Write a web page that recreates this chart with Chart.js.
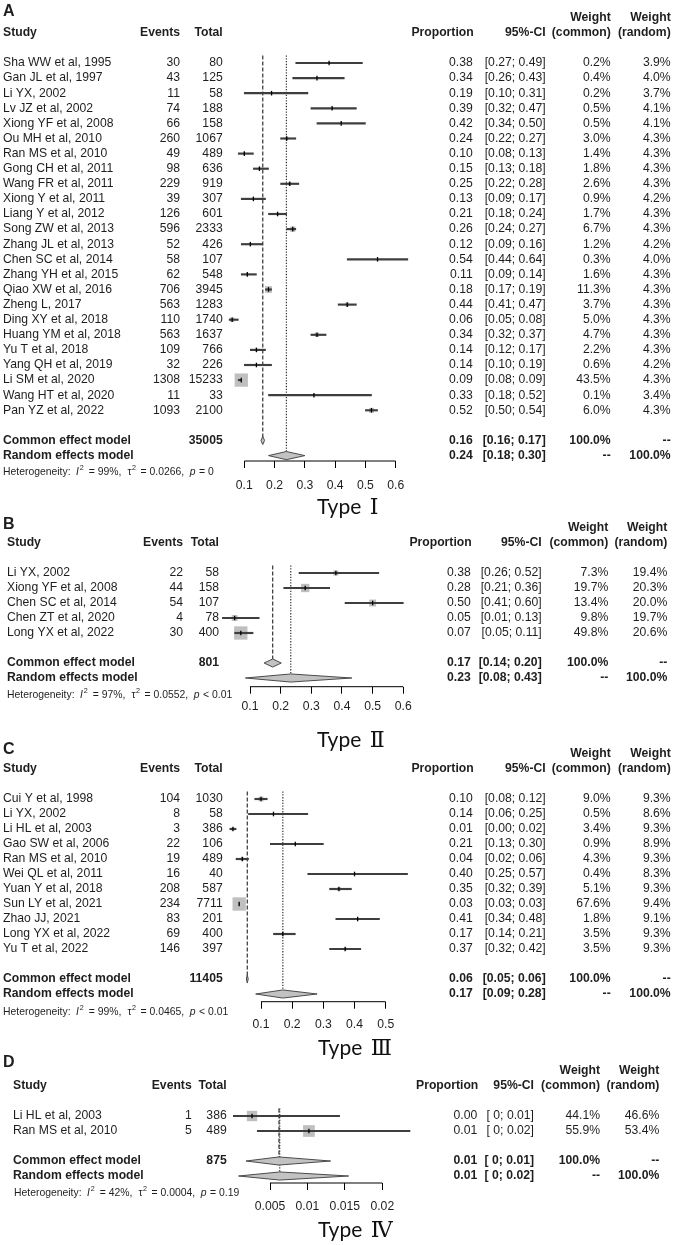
<!DOCTYPE html>
<html><head><meta charset="utf-8">
<script src="https://cdn.jsdelivr.net/npm/chart.js@4.4.1/dist/chart.umd.min.js"></script>
<style>
html,body{margin:0;padding:0;background:#fff;overflow:hidden;}
#wrap{position:relative;width:675px;height:1245px;}
#wrap canvas{position:absolute;left:0;top:0;}
</style></head><body>
<div id="wrap">
<canvas id="cA" width="675" height="1245"></canvas>
<canvas id="cB" width="675" height="1245"></canvas>
<canvas id="cC" width="675" height="1245"></canvas>
<canvas id="cD" width="675" height="1245"></canvas>
</div>
<script>
// ================= DATA =================
// ---- Panel A : Type I ----
const studiesA = ['Sha WW et al, 1995','Gan JL et al, 1997','Li YX, 2002','Lv JZ et al, 2002','Xiong YF et al, 2008','Ou MH et al, 2010','Ran MS et al, 2010','Gong CH et al, 2011','Wang FR et al, 2011','Xiong Y et al, 2011','Liang Y et al, 2012','Song ZW et al, 2013','Zhang JL et al, 2013','Chen SC et al, 2014','Zhang YH et al, 2015','Qiao XW et al, 2016','Zheng L, 2017','Ding XY et al, 2018','Huang YM et al, 2018','Yu T et al, 2018','Yang QH et al, 2019','Li SM et al, 2020','Wang HT et al, 2020','Pan YZ et al, 2022'];
const eventsA = [30,43,11,74,66,260,49,98,229,39,126,596,52,58,62,706,563,110,563,109,32,1308,11,1093];
const totalsA = [80,125,58,188,158,1067,489,636,919,307,601,2333,426,107,548,3945,1283,1740,1637,766,226,15233,33,2100];
const propA = [0.38,0.34,0.19,0.39,0.42,0.24,0.10,0.15,0.25,0.13,0.21,0.26,0.12,0.54,0.11,0.18,0.44,0.06,0.34,0.14,0.14,0.09,0.33,0.52];
const loA = [0.27,0.26,0.10,0.32,0.34,0.22,0.08,0.13,0.22,0.09,0.18,0.24,0.09,0.44,0.09,0.17,0.41,0.05,0.32,0.12,0.10,0.08,0.18,0.50];
const hiA = [0.49,0.43,0.31,0.47,0.50,0.27,0.13,0.18,0.28,0.17,0.24,0.27,0.16,0.64,0.14,0.19,0.47,0.08,0.37,0.17,0.19,0.09,0.52,0.54];
const wCommonA = [0.2,0.4,0.2,0.5,0.5,3.0,1.4,1.8,2.6,0.9,1.7,6.7,1.2,0.3,1.6,11.3,3.7,5.0,4.7,2.2,0.6,43.5,0.1,6.0];
const wRandomA = [3.9,4.0,3.7,4.1,4.1,4.3,4.3,4.3,4.3,4.2,4.3,4.3,4.2,4.0,4.3,4.3,4.3,4.3,4.3,4.3,4.2,4.3,3.4,4.3];
const commonA = [0.161,0.155,0.167];      // plotted: estimate, lower, upper
const randomA = [0.239,0.18,0.30];
const commonTextA = ['0.16','[0.16; 0.17]'];
const randomTextA = ['0.24','[0.18; 0.30]'];
const totalA = '35005';
const hetA = ['99%','0.0266','= 0'];
const ticksA = [0.1,0.2,0.3,0.4,0.5,0.6];
const tickLabelsA = ['0.1','0.2','0.3','0.4','0.5','0.6'];

// ---- Panel B : Type II ----
const studiesB = ['Li YX, 2002','Xiong YF et al, 2008','Chen SC et al, 2014','Chen ZT et al, 2020','Long YX et al, 2022'];
const eventsB = [22,44,54,4,30];
const totalsB = [58,158,107,78,400];
const propB = [0.38,0.28,0.50,0.05,0.07];
const loB = [0.26,0.21,0.41,0.01,0.05];
const hiB = [0.52,0.36,0.60,0.13,0.11];
const wCommonB = [7.3,19.7,13.4,9.8,49.8];
const wRandomB = [19.4,20.3,20.0,19.7,20.6];
const commonB = [0.174,0.146,0.202];
const randomB = [0.233,0.085,0.432];
const commonTextB = ['0.17','[0.14; 0.20]'];
const randomTextB = ['0.23','[0.08; 0.43]'];
const totalB = '801';
const hetB = ['97%','0.0552','< 0.01'];
const ticksB = [0.1,0.2,0.3,0.4,0.5,0.6];
const tickLabelsB = ['0.1','0.2','0.3','0.4','0.5','0.6'];

// ---- Panel C : Type III ----
const studiesC = ['Cui Y et al, 1998','Li YX, 2002','Li HL et al, 2003','Gao SW et al, 2006','Ran MS et al, 2010','Wei QL et al, 2011','Yuan Y et al, 2018','Sun LY et al, 2021','Zhao JJ, 2021','Long YX et al, 2022','Yu T et al, 2022'];
const eventsC = [104,8,3,22,19,16,208,234,83,69,146];
const totalsC = [1030,58,386,106,489,40,587,7711,201,400,397];
const propC = [0.10,0.14,0.01,0.21,0.04,0.40,0.35,0.03,0.41,0.17,0.37];
const loC = [0.08,0.06,0.00,0.13,0.02,0.25,0.32,0.03,0.34,0.14,0.32];
const hiC = [0.12,0.25,0.02,0.30,0.06,0.57,0.39,0.03,0.48,0.21,0.42];
const wCommonC = [9.0,0.5,3.4,0.9,4.3,0.4,5.1,67.6,1.8,3.5,3.5];
const wRandomC = [9.3,8.6,9.3,8.9,9.3,8.3,9.3,9.4,9.1,9.3,9.3];
const commonC = [0.056,0.053,0.059];
const randomC = [0.17,0.083,0.28];
const commonTextC = ['0.06','[0.05; 0.06]'];
const randomTextC = ['0.17','[0.09; 0.28]'];
const totalC = '11405';
const hetC = ['99%','0.0465','< 0.01'];
const ticksC = [0.1,0.2,0.3,0.4,0.5];
const tickLabelsC = ['0.1','0.2','0.3','0.4','0.5'];

// ---- Panel D : Type IV ----
const studiesD = ['Li HL et al, 2003','Ran MS et al, 2010'];
const eventsD = [1,5];
const totalsD = [386,489];
const propD = [0.0026,0.0102];
const loD = [0.0001,0.0033];
const hiD = [0.0143,0.0237];
const propTextD = ['0.00','0.01'];
const ciTextD = ['[ 0; 0.01]','[ 0; 0.02]'];
const wCommonD = [44.1,55.9];
const wRandomD = [46.6,53.4];
const commonD = [0.0062,0.0018,0.0131];
const randomD = [0.0063,0.0008,0.0155];
const commonTextD = ['0.01','[ 0; 0.01]'];
const randomTextD = ['0.01','[ 0; 0.02]'];
const totalD = '875';
const hetD = ['42%','0.0004','= 0.19'];
const ticksD = [0.005,0.01,0.015,0.02];
const tickLabelsD = ['0.005','0.01','0.015','0.02'];

// ================= DRAWING =================
const FONT = "'Liberation Sans', Arial, Helvetica, sans-serif";
const FS = 12.2;
const AXIS_BOX = 40;
Chart.defaults.font.family = FONT;
const TXT = '#1e1e1e';

function f2(v){ return v.toFixed(2); }
function pct(v){ return v.toFixed(1) + '%'; }

function tablePlugin(D, L) {
  return {
    id: 'forestTable' + D.label,
    afterDraw(chart) {
      const ctx = chart.ctx, ys = chart.scales.y;
      const n = D.studies.length;
      const Y = r => ys.getPixelForValue(r);
      const reg = FS + 'px ' + FONT, bold = 'bold ' + FS + 'px ' + FONT;
      ctx.save();
      ctx.fillStyle = TXT;
      ctx.textBaseline = 'middle';
      const T = (s, x, y, a, f) => { ctx.font = f; ctx.textAlign = a; ctx.fillText(String(s), x, y); };
      T(D.label, 3, L.labelY, 'left', 'bold 16px ' + FONT);
      const h1 = Y(-3), h2 = Y(-2);
      T('Weight', L.wcR, h1, 'right', bold);
      T('Weight', L.wrR, h1, 'right', bold);
      T('Study', L.studyX, h2, 'left', bold);
      T('Events', L.eventsR, h2, 'right', bold);
      T('Total', L.totalR, h2, 'right', bold);
      T('Proportion', L.propR + 1, h2, 'right', bold);
      T('95%-CI', L.ciR, h2, 'right', bold);
      T('(common)', L.wcR, h2, 'right', bold);
      T('(random)', L.wrR, h2, 'right', bold);
      for (let i = 0; i < n; i++) {
        const y = Y(i);
        T(D.studies[i], L.studyX, y, 'left', reg);
        T(D.events[i], L.eventsR, y, 'right', reg);
        T(D.totals[i], L.totalR, y, 'right', reg);
        T(D.propText ? D.propText[i] : f2(D.est[i]), L.propR, y, 'right', reg);
        T(D.ciText ? D.ciText[i] : '[' + f2(D.lo[i]) + '; ' + f2(D.hi[i]) + ']', L.ciR, y, 'right', reg);
        T(pct(D.wc[i]), L.wcR, y, 'right', reg);
        T(pct(D.wr[i]), L.wrR, y, 'right', reg);
      }
      const yc = Y(n + 1), yr = Y(n + 2);
      T('Common effect model', L.studyX, yc, 'left', bold);
      T(D.total, L.totalR, yc, 'right', bold);
      T(D.commonText[0], L.propR, yc, 'right', bold);
      T(D.commonText[1], L.ciR, yc, 'right', bold);
      T('100.0%', L.wcR, yc, 'right', bold);
      T('--', L.wrR, yc, 'right', bold);
      T('Random effects model', L.studyX, yr, 'left', bold);
      T(D.randomText[0], L.propR, yr, 'right', bold);
      T(D.randomText[1], L.ciR, yr, 'right', bold);
      T('--', L.wcR, yr, 'right', bold);
      T('100.0%', L.wrR, yr, 'right', bold);
      // heterogeneity line (text, style, gap after)
      const hy = yr + L.hetDy;
      const HF = 10.4;
      const segs = [
        ['Heterogeneity:', '', 5.5], ['I', 'italic ', 0.8], ['2', 'sup', 5], ['= ' + D.het[0] + ',', '', 6],
        ['\u03C4', '', 0.6], ['2', 'sup', 4.5], ['= ' + D.het[1] + ',', '', 5.5], ['p', 'italic ', 3.5], [D.het[2], '', 0]
      ];
      let hx = L.hetX;
      ctx.textAlign = 'left';
      for (const [s, st, gap] of segs) {
        if (st === 'sup') {
          ctx.font = '7.2px ' + FONT;
          ctx.fillText(s, hx, hy - 4.2);
        } else {
          ctx.font = st + HF + 'px ' + FONT;
          ctx.fillText(s, hx, hy);
        }
        hx += ctx.measureText(s).width + gap;
      }
      // title
      ctx.textBaseline = 'alphabetic';
      ctx.fillStyle = '#111';
      ctx.textAlign = 'left';
      ctx.font = '21px Lato, "Open Sans", sans-serif';
      ctx.fillText('Type', L.titleX, L.titleBase);
      const tw = ctx.measureText('Type ').width;
      ctx.font = '22px "DejaVu Serif", "Noto Sans CJK SC", serif';
      ctx.fillText(D.numeral, L.titleX + tw + 3, L.titleBase);
      ctx.restore();
    }
  };
}

function buildPanel(id, D, L) {
  const n = D.studies.length;
  const axisRow = (L.axisY - L.row0) / L.step;
  const tmin = D.ticks[0], tmax = D.ticks[D.ticks.length - 1];
  const ppu = (L.x1 - L.x0) / (tmax - tmin);
  const areaL = L.x0 + (L.rangeMin - tmin) * ppu;
  const areaR = L.x0 + (L.rangeMax - tmin) * ppu;
  const maxW = Math.max(...D.wc);
  const side = w => L.maxSide * Math.sqrt(w / maxW);
  const dh = 0.27;
  const diamond = (v, r) => [{x: v[1], y: r}, {x: v[0], y: r - dh}, {x: v[2], y: r}, {x: v[0], y: r + dh}, {x: v[1], y: r}];
  const datasets = [
    { type: 'line', indexAxis: 'y', data: [{x: D.common[0], y: -0.5}, {x: D.common[0], y: n + 1}],
      borderColor: '#333', borderWidth: 1.2, borderDash: [4, 2], pointRadius: 0, fill: false, clip: false, order: 7 },
    { type: 'line', indexAxis: 'y', data: [{x: D.random[0], y: -0.5}, {x: D.random[0], y: n + 2}],
      borderColor: '#333', borderWidth: 1.2, borderDash: [1.3, 1.5], pointRadius: 0, fill: false, clip: false, order: 7 },
    // axis line spanning only the tick range
    { type: 'line', data: [{x: tmin, y: axisRow}, {x: tmax, y: axisRow}],
      borderColor: '#000', borderWidth: 1, pointRadius: 0, fill: false, clip: false, order: 8 },
    { type: 'scatter', indexAxis: 'y', data: D.est.map((v, i) => ({x: v, y: i})), pointStyle: 'rect',
      pointRadius: c => side(D.wc[c.dataIndex]) / Math.SQRT2, pointBackgroundColor: '#bfbfbf',
      pointBorderWidth: 0, clip: false, order: 6 },
    { type: 'line', data: diamond(D.common, n + 1), fill: 'shape', backgroundColor: '#c2c2c2',
      borderColor: '#4a4a4a', borderWidth: 1, pointRadius: 0, tension: 0, clip: false, order: 5 },
    { type: 'line', data: diamond(D.random, n + 2), fill: 'shape', backgroundColor: '#c2c2c2',
      borderColor: '#4a4a4a', borderWidth: 1, pointRadius: 0, tension: 0, clip: false, order: 5 },
    { type: 'bar', indexAxis: 'y', data: D.lo.map((l, i) => ({x: [l, D.hi[i]], y: i})),
      barThickness: 1.5, backgroundColor: '#3e3e3e', borderWidth: 0, clip: false, order: 2 },
    { type: 'scatter', indexAxis: 'y', data: D.est.map((v, i) => ({x: v, y: i})), pointStyle: 'line',
      pointRotation: 90, pointRadius: 2.3, pointBorderColor: '#000', pointBorderWidth: 1.3, clip: false, order: 1 }
  ];
  return new Chart(document.getElementById(id), {
    type: 'scatter',
    data: { datasets },
    options: {
      responsive: false, animation: false, events: [],
      layout: { padding: { left: areaL, right: 675 - areaR, top: L.row0 - L.step, bottom: 1245 - L.axisY - AXIS_BOX } },
      plugins: { legend: { display: false }, tooltip: { enabled: false }, title: { display: false } },
      scales: {
        x: {
          type: 'linear', min: L.rangeMin, max: L.rangeMax, offset: false,
          afterBuildTicks: s => { s.ticks = D.ticks.map(v => ({ value: v })); },
          afterFit: s => { s.height = AXIS_BOX; },
          ticks: { callback: (v, i) => D.tickLabels[i], autoSkip: false, maxRotation: 0, minRotation: 0,
                   color: TXT, font: { size: FS, family: FONT }, padding: L.tickPad },
          grid: { drawOnChartArea: false, drawTicks: true, tickLength: 7, color: '#000', lineWidth: 1, offset: false },
          border: { display: false }
        },
        y: { type: 'linear', display: false, reverse: true, min: -1, max: axisRow, offset: false }
      }
    },
    plugins: [tablePlugin(D, L)]
  });
}

buildPanel('cA',
  { label: 'A', numeral: '\u2160', studies: studiesA, events: eventsA, totals: totalsA, est: propA, lo: loA, hi: hiA,
    wc: wCommonA, wr: wRandomA, common: commonA, random: randomA, commonText: commonTextA, randomText: randomTextA,
    total: totalA, het: hetA, ticks: ticksA, tickLabels: tickLabelsA },
  { labelY: 11.5, row0: 63, step: 15.1, axisY: 461, x0: 244.3, x1: 395.7, rangeMin: 0.0, rangeMax: 0.7,
    studyX: 3, eventsR: 180, totalR: 222.7,
    propR: 472.7, ciR: 545.7, wcR: 610.7, wrR: 670.7, hetX: 3, hetDy: 17, titleX: 317, titleBase: 514, maxSide: 13.3, tickPad: 10 });

buildPanel('cB',
  { label: 'B', numeral: '\u2161', studies: studiesB, events: eventsB, totals: totalsB, est: propB, lo: loB, hi: hiB,
    wc: wCommonB, wr: wRandomB, common: commonB, random: randomB, commonText: commonTextB, randomText: randomTextB,
    total: totalB, het: hetB, ticks: ticksB, tickLabels: tickLabelsB },
  { labelY: 525, row0: 573, step: 15, axisY: 686.7, x0: 250, x1: 403.3, rangeMin: 0.0, rangeMax: 0.7,
    studyX: 7, eventsR: 183, totalR: 219,
    propR: 470.7, ciR: 541.7, wcR: 608.3, wrR: 667.3, hetX: 7, hetDy: 17, titleX: 317, titleBase: 746.7, maxSide: 13.3, tickPad: 6 });

buildPanel('cC',
  { label: 'C', numeral: '\u2162', studies: studiesC, events: eventsC, totals: totalsC, est: propC, lo: loC, hi: hiC,
    wc: wCommonC, wr: wRandomC, common: commonC, random: randomC, commonText: commonTextC, randomText: randomTextC,
    total: totalC, het: hetC, ticks: ticksC, tickLabels: tickLabelsC },
  { labelY: 750, row0: 799, step: 15, axisY: 1001.7, x0: 261, x1: 385.7, rangeMin: -0.03, rangeMax: 0.65,
    studyX: 3, eventsR: 180, totalR: 222.7,
    propR: 472.7, ciR: 545.7, wcR: 610.7, wrR: 670.7, hetX: 3, hetDy: 18, titleX: 318, titleBase: 1055, maxSide: 13.3, tickPad: 9 });

buildPanel('cD',
  { label: 'D', numeral: '\u2163', studies: studiesD, events: eventsD, totals: totalsD, est: propD, lo: loD, hi: hiD,
    propText: propTextD, ciText: ciTextD,
    wc: wCommonD, wr: wRandomD, common: commonD, random: randomD, commonText: commonTextD, randomText: randomTextD,
    total: totalD, het: hetD, ticks: ticksD, tickLabels: tickLabelsD },
  { labelY: 1063, row0: 1116, step: 15, axisY: 1183, x0: 270, x1: 382.3, rangeMin: -0.001, rangeMax: 0.026,
    studyX: 13, eventsR: 191.7, totalR: 226.7,
    propR: 477.3, ciR: 534, wcR: 600, wrR: 659.3, hetX: 14, hetDy: 17, titleX: 318, titleBase: 1236.7, maxSide: 11.7, tickPad: 9 });
</script>
</body></html>
